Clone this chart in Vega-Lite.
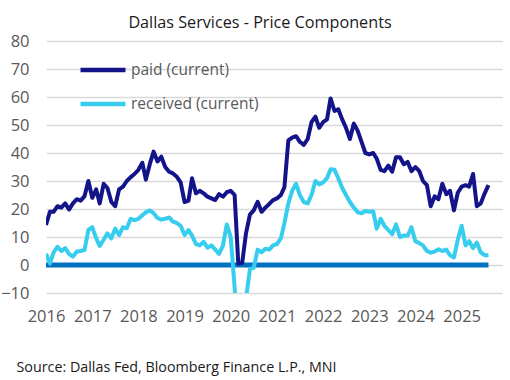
{
  "$schema": "https://vega.github.io/schema/vega-lite/v6.json",
  "width": 456,
  "height": 252,
  "autosize": "none",
  "padding": {"left": 46, "top": 41, "right": 8, "bottom": 87},
  "background": "white",
  "config": {"view": {"stroke": null}, "font": "Open Sans"},
  "title": {"text": "Dallas  Services - Price Components", "fontSize": 16.2, "fontWeight": "normal", "color": "#1a1a1a", "anchor": "middle", "dx": -14, "dy": 25, "baseline": "alphabetic", "offset": 14},
  "datasets": {
    "zero": [{"date": "2016-01-01", "end": "2025-08-01", "value": 0}],
    "series": [
      {"date": "2016-01-01", "paid": 14.3, "received": 4},
      {"date": "2016-02-01", "paid": 19, "received": 0.5},
      {"date": "2016-03-01", "paid": 19, "received": 4.5},
      {"date": "2016-04-01", "paid": 21, "received": 6.5},
      {"date": "2016-05-01", "paid": 20.5, "received": 5},
      {"date": "2016-06-01", "paid": 22, "received": 6},
      {"date": "2016-07-01", "paid": 19.8, "received": 4},
      {"date": "2016-08-01", "paid": 22, "received": 3},
      {"date": "2016-09-01", "paid": 23.5, "received": 4.8},
      {"date": "2016-10-01", "paid": 23, "received": 5},
      {"date": "2016-11-01", "paid": 24.6, "received": 5.4},
      {"date": "2016-12-01", "paid": 30, "received": 12.5},
      {"date": "2017-01-01", "paid": 24, "received": 13.5},
      {"date": "2017-02-01", "paid": 27, "received": 9.5},
      {"date": "2017-03-01", "paid": 22, "received": 6.8},
      {"date": "2017-04-01", "paid": 29, "received": 9},
      {"date": "2017-05-01", "paid": 27.5, "received": 11.3},
      {"date": "2017-06-01", "paid": 22.5, "received": 9.5},
      {"date": "2017-07-01", "paid": 21, "received": 13},
      {"date": "2017-08-01", "paid": 27, "received": 10.7},
      {"date": "2017-09-01", "paid": 28, "received": 13.5},
      {"date": "2017-10-01", "paid": 30, "received": 13.1},
      {"date": "2017-11-01", "paid": 31.4, "received": 16.5},
      {"date": "2017-12-01", "paid": 32.5, "received": 16},
      {"date": "2018-01-01", "paid": 34, "received": 16.5},
      {"date": "2018-02-01", "paid": 36.5, "received": 17.8},
      {"date": "2018-03-01", "paid": 30.5, "received": 18.8},
      {"date": "2018-04-01", "paid": 36, "received": 19.5},
      {"date": "2018-05-01", "paid": 40.5, "received": 18.5},
      {"date": "2018-06-01", "paid": 37, "received": 16.8},
      {"date": "2018-07-01", "paid": 38.7, "received": 16.2},
      {"date": "2018-08-01", "paid": 35, "received": 16.5},
      {"date": "2018-09-01", "paid": 33.3, "received": 17},
      {"date": "2018-10-01", "paid": 32.7, "received": 15.5},
      {"date": "2018-11-01", "paid": 31.5, "received": 15},
      {"date": "2018-12-01", "paid": 29.5, "received": 14},
      {"date": "2019-01-01", "paid": 22.5, "received": 10.7},
      {"date": "2019-02-01", "paid": 23, "received": 12.5},
      {"date": "2019-03-01", "paid": 31, "received": 10.5},
      {"date": "2019-04-01", "paid": 25.6, "received": 7.5},
      {"date": "2019-05-01", "paid": 26.5, "received": 7},
      {"date": "2019-06-01", "paid": 25.6, "received": 8.3},
      {"date": "2019-07-01", "paid": 24.4, "received": 6.2},
      {"date": "2019-08-01", "paid": 23.8, "received": 7},
      {"date": "2019-09-01", "paid": 23.2, "received": 5.5},
      {"date": "2019-10-01", "paid": 25.3, "received": 4},
      {"date": "2019-11-01", "paid": 24.4, "received": 7},
      {"date": "2019-12-01", "paid": 26, "received": 14.5},
      {"date": "2020-01-01", "paid": 26.5, "received": 10},
      {"date": "2020-02-01", "paid": 25, "received": -8},
      {"date": "2020-03-01", "paid": 0.5, "received": -30},
      {"date": "2020-04-01", "paid": 0.8, "received": -25},
      {"date": "2020-05-01", "paid": 11.3, "received": -12},
      {"date": "2020-06-01", "paid": 18, "received": -1.5},
      {"date": "2020-07-01", "paid": 19.5, "received": -1},
      {"date": "2020-08-01", "paid": 22.6, "received": 5.5},
      {"date": "2020-09-01", "paid": 19, "received": 4.5},
      {"date": "2020-10-01", "paid": 20.5, "received": 5.8},
      {"date": "2020-11-01", "paid": 21.8, "received": 5.5},
      {"date": "2020-12-01", "paid": 23.2, "received": 7},
      {"date": "2021-01-01", "paid": 23.8, "received": 7.5},
      {"date": "2021-02-01", "paid": 25, "received": 9.5},
      {"date": "2021-03-01", "paid": 27.8, "received": 15},
      {"date": "2021-04-01", "paid": 44.5, "received": 22},
      {"date": "2021-05-01", "paid": 45.5, "received": 26.5},
      {"date": "2021-06-01", "paid": 46, "received": 29},
      {"date": "2021-07-01", "paid": 44, "received": 25},
      {"date": "2021-08-01", "paid": 42.9, "received": 22.5},
      {"date": "2021-09-01", "paid": 45, "received": 22},
      {"date": "2021-10-01", "paid": 51, "received": 25},
      {"date": "2021-11-01", "paid": 53, "received": 30},
      {"date": "2021-12-01", "paid": 49, "received": 28.8},
      {"date": "2022-01-01", "paid": 51, "received": 29.5},
      {"date": "2022-02-01", "paid": 52, "received": 31},
      {"date": "2022-03-01", "paid": 59.5, "received": 34.2},
      {"date": "2022-04-01", "paid": 55, "received": 34},
      {"date": "2022-05-01", "paid": 55.6, "received": 31},
      {"date": "2022-06-01", "paid": 52, "received": 27.5},
      {"date": "2022-07-01", "paid": 49, "received": 25},
      {"date": "2022-08-01", "paid": 45, "received": 22.5},
      {"date": "2022-09-01", "paid": 50.5, "received": 20.5},
      {"date": "2022-10-01", "paid": 48, "received": 18.8},
      {"date": "2022-11-01", "paid": 44, "received": 18.5},
      {"date": "2022-12-01", "paid": 40, "received": 19.3},
      {"date": "2023-01-01", "paid": 39.5, "received": 19},
      {"date": "2023-02-01", "paid": 40, "received": 19.2},
      {"date": "2023-03-01", "paid": 38, "received": 13},
      {"date": "2023-04-01", "paid": 34, "received": 16.5},
      {"date": "2023-05-01", "paid": 33.5, "received": 14},
      {"date": "2023-06-01", "paid": 35.5, "received": 12.5},
      {"date": "2023-07-01", "paid": 33.3, "received": 11},
      {"date": "2023-08-01", "paid": 38.5, "received": 14.5},
      {"date": "2023-09-01", "paid": 38.5, "received": 10},
      {"date": "2023-10-01", "paid": 36, "received": 10.5},
      {"date": "2023-11-01", "paid": 36.8, "received": 10.5},
      {"date": "2023-12-01", "paid": 33.5, "received": 13.5},
      {"date": "2024-01-01", "paid": 35, "received": 8.5},
      {"date": "2024-02-01", "paid": 33.5, "received": 7.8},
      {"date": "2024-03-01", "paid": 30, "received": 7},
      {"date": "2024-04-01", "paid": 28.5, "received": 5},
      {"date": "2024-05-01", "paid": 21, "received": 4.4},
      {"date": "2024-06-01", "paid": 24.5, "received": 4.8},
      {"date": "2024-07-01", "paid": 23.5, "received": 5.6},
      {"date": "2024-08-01", "paid": 29, "received": 5},
      {"date": "2024-09-01", "paid": 25.3, "received": 5.5},
      {"date": "2024-10-01", "paid": 26.5, "received": 3.5},
      {"date": "2024-11-01", "paid": 19.5, "received": 2.7},
      {"date": "2024-12-01", "paid": 25.8, "received": 9},
      {"date": "2025-01-01", "paid": 28, "received": 14},
      {"date": "2025-02-01", "paid": 28.5, "received": 7},
      {"date": "2025-03-01", "paid": 28, "received": 8.5},
      {"date": "2025-04-01", "paid": 32.5, "received": 6},
      {"date": "2025-05-01", "paid": 21, "received": 8},
      {"date": "2025-06-01", "paid": 22, "received": 4.5},
      {"date": "2025-07-01", "paid": 25.5, "received": 3.5},
      {"date": "2025-08-01", "paid": 28.5, "received": 3.5}
    ]
  },
  "encoding": {
    "x": {
      "field": "date",
      "type": "temporal",
      "scale": {"type": "utc", "domain": [{"year": 2016, "month": 1, "date": 1, "utc": true}, {"year": 2025, "month": 11, "date": 16, "utc": true}]},
      "axis": {
        "format": "%Y",
        "tickCount": {"interval": "year", "step": 1},
        "grid": false,
        "domain": false,
        "ticks": false,
        "labelPadding": 15,
        "labelFontSize": 16.5,
        "labelColor": "#595959",
        "labelFlush": false,
        "labelOverlap": false,
        "title": "Source: Dallas Fed, Bloomberg Finance L.P., MNI",
        "titleAnchor": "start",
        "titleAlign": "left",
        "titleX": -30,
        "titleY": 78,
        "titleBaseline": "alphabetic",
        "titleFontSize": 14.3,
        "titleFontWeight": "normal",
        "titleColor": "#1a1a1a"
      }
    },
    "y": {
      "field": "value",
      "type": "quantitative",
      "scale": {"domain": [-10, 80], "nice": false, "zero": false},
      "axis": {
        "values": [-10, 0, 10, 20, 30, 40, 50, 60, 70, 80],
        "grid": true,
        "gridColor": "#d9d9d9",
        "gridWidth": 1.5,
        "domain": false,
        "ticks": false,
        "labelPadding": 17,
        "labelFontSize": 16.5,
        "labelColor": "#595959",
        "title": null
      }
    }
  },
  "layer": [
    {
      "data": {"name": "zero"},
      "mark": {"type": "rule", "color": "#0070C0", "strokeWidth": 5},
      "encoding": {"x2": {"field": "end"}}
    },
    {
      "data": {"name": "series"},
      "transform": [{"fold": ["paid", "received"], "as": ["series", "value"]}],
      "mark": {"type": "line", "strokeWidth": 4, "clip": true, "strokeJoin": "round"},
      "encoding": {
        "color": {
          "field": "series",
          "type": "nominal",
          "scale": {"domain": ["paid", "received"], "range": ["#13138A", "#36CDEE"]},
          "legend": {
            "orient": "none",
            "legendX": 32,
            "legendY": 4,
            "title": null,
            "symbolType": "stroke",
            "symbolSize": 2025,
            "symbolStrokeWidth": 4.5,
            "labelFontSize": 15.5,
            "labelColor": "#595959",
            "rowPadding": -24,
            "labelOffset": 3,
            "labelExpr": "datum.label + ' (current)'"
          }
        }
      }
    }
  ]
}
